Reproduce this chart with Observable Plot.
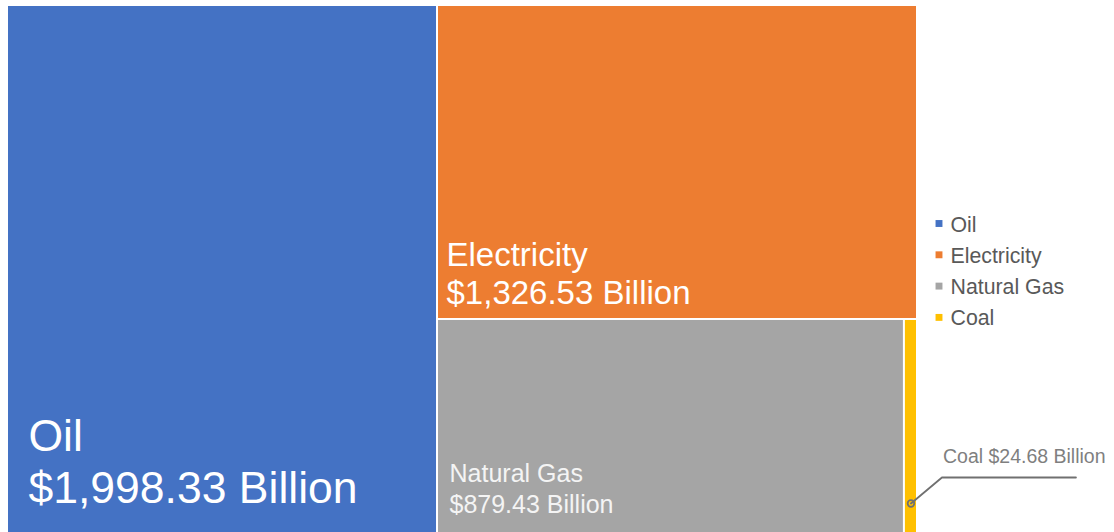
<!DOCTYPE html>
<html>
<head>
<meta charset="utf-8">
<script src="https://cdn.jsdelivr.net/npm/d3@7"></script>
<script src="https://cdn.jsdelivr.net/npm/@observablehq/plot@0.6"></script>
<style>
  html, body { margin: 0; padding: 0; background: #fff; }
  #chart svg { display: block; }
</style>
</head>
<body>
<div id="chart"></div>
<script>
// ---- data ----
const categories = ["Oil", "Electricity", "Natural Gas", "Coal"];
const values = [1998.33, 1326.53, 879.43, 24.68]; // $ Billion
const colors = ["#4472C4", "#ED7D31", "#A5A5A5", "#FFC000"];
const valueLabels = ["$1,998.33 Billion", "$1,326.53 Billion", "$879.43 Billion", "$24.68 Billion"];

// ---- layout ----
const W = 1114, H = 532;
const area = {x: 8, y: 6, w: 908, h: 526};

const root = d3.hierarchy({children: categories.map((c, i) => ({name: c, value: values[i], color: colors[i], label: valueLabels[i], idx: i}))})
  .sum(d => d.value || 0)
  .sort((a, b) => b.value - a.value);
d3.treemap().tile(d3.treemapSquarify.ratio(1)).size([area.w, area.h]).paddingInner(2)(root);
const cells = root.leaves().map(n => ({
  ...n.data,
  x0: n.x0 + area.x, x1: n.x1 + area.x, y0: n.y0 + area.y, y1: n.y1 + area.y
}));
const byName = Object.fromEntries(cells.map(c => [c.name, c]));

// label styles per category (offset from rect bottom-left)
const labelStyle = {
  "Oil":         {size: 44.5, dx: 20, b1: 82, b2: 30, fill: "#fff"},
  "Electricity": {size: 33, dx: 8,  b1: 52, b2: 14, fill: "#fff"},
  "Natural Gas": {size: 25, dx: 11, b1: 51, b2: 20, fill: "#f4f4f4"}
};

const textMarks = [];
for (const name of Object.keys(labelStyle)) {
  const s = labelStyle[name];
  const c = byName[name];
  const lines = [
    {t: c.name, x: c.x0 + s.dx, y: c.y1 - s.b1},
    {t: c.label, x: c.x0 + s.dx, y: c.y1 - s.b2}
  ];
  textMarks.push(Plot.text(lines, {
    x: "x", y: "y", text: "t", fill: s.fill, fontSize: s.size,
    textAnchor: "start", lineAnchor: "bottom"
  }));
}

// coal callout
const coal = byName["Coal"];
const cx = (coal.x0 + coal.x1) / 2, cy = coal.y1 - 29;
const leader = [
  {x: cx, y: cy},
  {x: cx + 31, y: cy - 26},
  {x: cx + 165, y: cy - 26}
];
const coalText = [{x: cx + 32, y: cy - 41, t: "Coal " + coal.label}];

// legend
const legend = categories.map((c, i) => ({name: c, color: colors[i], y: 223 + i * 31.3}));

const plot = Plot.plot({
  width: W, height: H,
  margin: 0,
  style: {fontFamily: "Arial, 'Liberation Sans', sans-serif", background: "#fff"},
  x: {domain: [0, W], range: [0, W], axis: null},
  y: {domain: [0, H], range: [0, H], axis: null},
  marks: [
    Plot.rect(cells, {x1: "x0", x2: "x1", y1: "y0", y2: "y1", fill: "color"}),
    ...textMarks,
    Plot.line(leader, {x: "x", y: "y", stroke: "#707070", strokeWidth: 1.8}),
    Plot.dot([leader[0]], {x: "x", y: "y", r: 3.3, stroke: "#707070", strokeWidth: 1.8, fill: "none"}),
    Plot.text(coalText, {x: "x", y: "y", text: "t", fill: "#7f7f7f", fontSize: 19.5, textAnchor: "start", lineAnchor: "bottom"}),
    Plot.dot(legend, {x: 938.5, y: "y", symbol: "square", r: 3.9, fill: "color"}),
    Plot.text(legend, {x: 950, y: d => d.y + 8, text: "name", fill: "#595959", fontSize: 21.3, textAnchor: "start", lineAnchor: "bottom"})
  ]
});
document.getElementById("chart").appendChild(plot);
</script>
</body>
</html>
